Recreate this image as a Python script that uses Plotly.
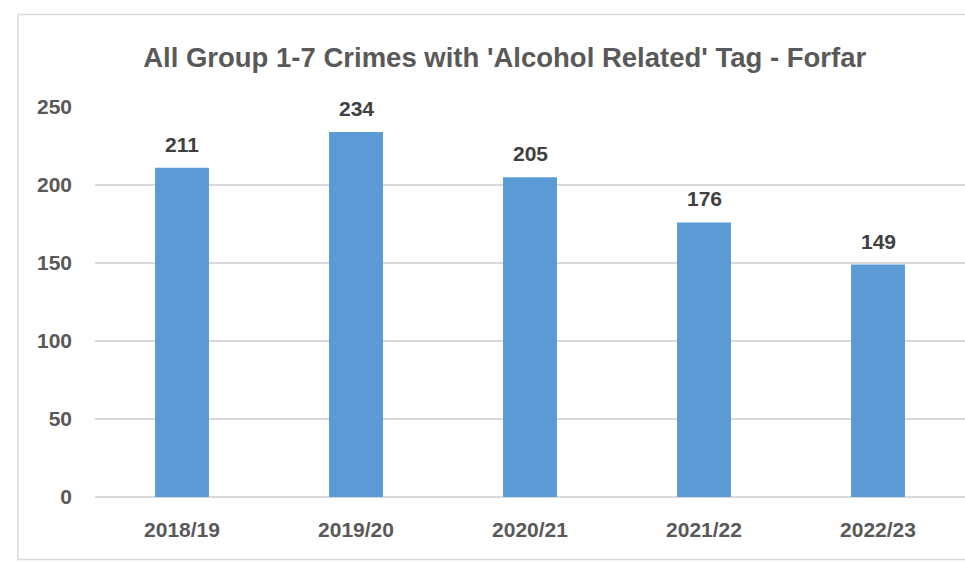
import plotly.graph_objects as go

categories = ["2018/19", "2019/20", "2020/21", "2021/22", "2022/23"]
values = [211, 234, 205, 176, 149]
y_ticks = [0, 50, 100, 150, 200, 250]
title_text = "All Group 1-7 Crimes with 'Alcohol Related' Tag - Forfar"

FONT = "Liberation Sans"

fig = go.Figure()
fig.add_trace(go.Bar(
    x=categories, y=values,
    marker=dict(color="#5b9bd5", line=dict(width=0)),
    width=0.31,
    hoverinfo="x+y",
))

for c, v in zip(categories, values):
    fig.add_annotation(
        x=c, y=v, text=str(v), showarrow=False,
        yanchor="bottom", yshift=10,
        font=dict(family=FONT, size=21, color="#404040", weight="bold"),
    )

# chart frame
fig.add_shape(type="rect", xref="paper", yref="paper",
              x0=-0.0885, x1=1.02, y0=-0.160, y1=1.237,
              line=dict(color="#d9d9d9", width=1.5), layer="below")

fig.update_layout(
    width=965, height=564,
    margin=dict(l=95, r=0, t=107, b=67),
    paper_bgcolor="white", plot_bgcolor="white",
    showlegend=False,
    title=dict(text="<b>" + title_text + "</b>", x=0.523, xanchor="center",
               xref="container",
               y=1 - 57 / 564, yref="container", yanchor="middle",
               font=dict(family=FONT, size=27.5, color="#595959")),
    xaxis=dict(
        showgrid=False, showline=False, ticks="",
        tickfont=dict(family=FONT, size=21, color="#595959", weight="bold"),
        ticklabelstandoff=18,
    ),
    yaxis=dict(
        range=[0, 250], tickvals=y_ticks,
        showgrid=True, gridcolor="#d9d9d9", gridwidth=1.5,
        zeroline=True, zerolinecolor="#d9d9d9", zerolinewidth=1.8,
        showline=False, ticks="",
        tickfont=dict(family=FONT, size=21, color="#595959", weight="bold"),
        ticklabelstandoff=22,
    ),
)

fig.write_html(
    "out.html",
    config={"displayModeBar": False},
    post_script="document.body.style.margin='0';document.body.style.overflow='hidden';",
)
